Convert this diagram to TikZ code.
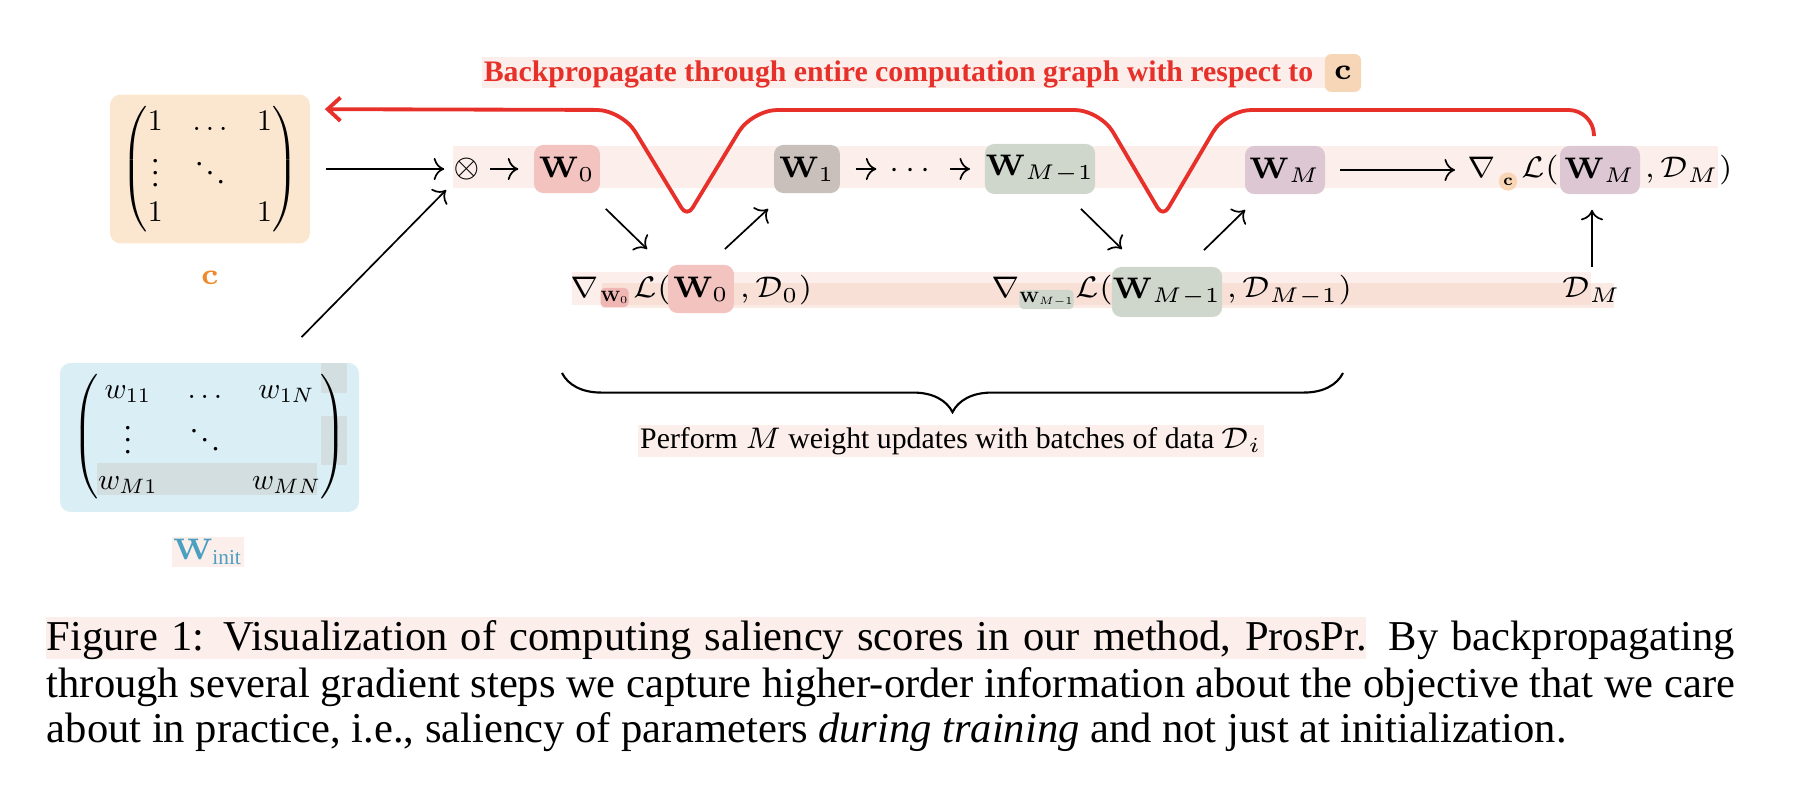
\documentclass[tikz,border=0pt]{standalone}
\usepackage{amsmath}
\usepackage{graphicx}
\usepackage[no-math]{fontspec}
\setmainfont{Liberation Serif}
\usetikzlibrary{arrows.meta,calc,decorations.pathreplacing}
\definecolor{band}{HTML}{FCEFEB}
\definecolor{bandB}{HTML}{F6CFC0}
\definecolor{redc}{HTML}{E8302A}
\definecolor{orangec}{HTML}{EE8A2C}
\definecolor{bluec}{HTML}{4B9FC0}
\definecolor{cboxc}{HTML}{FBE7D0}
\definecolor{winitc}{HTML}{D9EEF5}
\definecolor{patchc}{HTML}{D3DEE1}
\definecolor{w0c}{HTML}{F3C3C0}
\definecolor{w0s}{HTML}{EFB6B3}
\definecolor{w1c}{HTML}{C9C0BC}
\definecolor{wm1c}{HTML}{CFD7CC}
\definecolor{wmc}{HTML}{DDC7D2}
\definecolor{csmall}{HTML}{F8D5B4}
\definecolor{ctitle}{HTML}{F7D6B8}
\tikzset{
  every node/.style={font=\fontsize{7}{8.4}\selectfont, inner sep=0pt},
  wbox/.style={rounded corners=2.2pt, inner sep=0pt, minimum height=11.3pt},
  tinybox/.style={rounded corners=1pt, inner sep=0pt, minimum height=4.5pt},
  arr/.style={->, line width=0.4pt},
  redline/.style={draw=redc, line width=0.9pt, -{Straight Barb[length=3pt,width=5.5pt]}},
  captext/.style={anchor=base west, font=\fontsize{10}{11}\selectfont},
}
\newcommand{\smallmat}[1]{\scalebox{0.7}{\fontsize{10}{12}\selectfont$#1$}}
\begin{document}
\begin{tikzpicture}[x=0.235pt,y=-0.235pt]
\useasboundingbox (0,0) rectangle (1802,796);
% highlight bands
\fill[band] (482,57) rectangle (1349,88);
\fill[band] (453,146) rectangle (1718,188);
\fill[band] (572,272) rectangle (1591,305);
\fill[bandB, fill opacity=.45] (602,283) rectangle (1614,308);
\fill[band] (46,617) rectangle (1366,659);
% title
\node[anchor=base west, text=redc, font=\fontsize{7}{8.4}\selectfont\bfseries] (title) at (483,82) {Backpropagate through entire computation graph with respect to};
\node[fill=ctitle, rounded corners=1.5pt, minimum width=8.5pt, minimum height=8.9pt] (ctitlebox) at (1343,73) {$\mathbf{c}$};
% c matrix
\node[fill=cboxc, rounded corners=2.5pt, minimum width=47pt, minimum height=35pt] (cbox) at (210,169)
  {\smallmat{\begin{pmatrix}1 & \ldots & 1\\ \vdots & \ddots & \\ 1 & & 1\end{pmatrix}}};
\node[text=orangec] (clabel) at (210,278) {$\mathbf{c}$};
% W_init matrix
\node[fill=winitc, rounded corners=2.5pt, minimum width=70.3pt, minimum height=35pt] (winit) at (209.5,437.5) {};
\fill[patchc] (97,463) rectangle (317,495);
\fill[patchc] (321,363) rectangle (347,393);
\fill[patchc] (321,416) rectangle (347,465);
\node (winitm) at (209.5,436.5)
  {\smallmat{\begin{pmatrix} w_{11} & \ldots & w_{1N}\\ \vdots & \ddots & \\ w_{M1} & & w_{MN}\end{pmatrix}}};
\node[fill=band, text=bluec, inner ysep=0.6pt, inner xsep=0.2pt] (winitlabel) at (208,552) {$\mathbf{W}_{\text{init}}$};
% row 1
\node[circle, minimum size=10.3pt] (otimes) at (467,169) {$\otimes$};
\node[wbox, fill=w0c, minimum width=15.5pt] (w0top) at (567,169) {$\mathbf{W}_0$};
\node[wbox, fill=w1c, minimum width=15.5pt] (w1) at (807,169) {$\mathbf{W}_1$};
\node[anchor=base] (dots) at (913,178) {$\cdots$};
\node[wbox, fill=wm1c, minimum width=25.9pt, minimum height=11.75pt] (wm1top) at (1040,169) {$\mathbf{W}_{M-1}$};
\node[wbox, fill=wmc, minimum width=18.8pt] (wmtop) at (1285,170) {$\mathbf{W}_M$};
\node[anchor=base] (nablac) at (1482,178) {$\nabla$};
\node[circle, fill=csmall, minimum size=4.3pt] (csub) at (1508,181.5) {\scalebox{0.55}{$\mathbf{c}$}};
\node[anchor=base west] (lc) at (1521,178) {$\mathcal{L}($};
\node[wbox, fill=wmc, minimum width=18.8pt] (wmr) at (1600,170) {$\mathbf{W}_M$};
\node[anchor=base west] (dmr) at (1644,178) {$,\mathcal{D}_M)$};
% row 2
\node[anchor=base] (nab1) at (585,298) {$\nabla$};
\node[tinybox, fill=w0s, minimum width=6.3pt] (w0sub) at (614.5,297.5) {\scalebox{0.5}{$\mathbf{W}_0$}};
\node[anchor=base west] (l1) at (633,298) {$\mathcal{L}($};
\node[wbox, fill=w0c, minimum width=15.5pt] (w0bot) at (701,289) {$\mathbf{W}_0$};
\node[anchor=base west] (d0) at (739,298) {$,\mathcal{D}_0)$};
\node[anchor=base] (nab2) at (1006,298) {$\nabla$};
\node[tinybox, fill=wm1c, minimum width=11.5pt] (wm1sub) at (1046.5,299.5) {\scalebox{0.5}{$\mathbf{W}_{M-1}$}};
\node[anchor=base west] (l2) at (1075,298) {$\mathcal{L}($};
\node[wbox, fill=wm1c, minimum width=25.9pt, minimum height=11.75pt] (wm1bot) at (1167,292) {$\mathbf{W}_{M-1}$};
\node[anchor=base west] (dm1) at (1226,298) {$,\mathcal{D}_{M-1})$};
\node[anchor=base, inner sep=2.3pt] (dm) at (1592,298) {$\mathcal{D}_M$};
% arrows
\coordinate (winitout) at ($(winit.north)+(92,-25)$);
\draw[arr, shorten <=3.5pt] (cbox) -- (otimes);
\draw[arr, shorten >=1.6pt] (winitout) -- (otimes.south west);
\draw[arr, shorten >=3.5pt] (otimes) -- (w0top);
\draw[arr] ($(w0top.south east)+(5,15)$) -- ($(w0bot.north west)+(-20,-15)$);
\draw[arr] ($(w0bot.north east)+(-10,-15)$) -- ($(w1.south west)+(-5,15)$);
\draw[arr, shorten <=3.5pt, shorten >=2.8pt] (w1.east) -- (dots.west |- w1.east);
\draw[arr, shorten <=2.8pt, shorten >=3.3pt] (dots.east |- wm1top.west) -- (wm1top.west);
\draw[arr] ($(wm1top.south east)+(-15,14)$) -- ($(wm1bot.north west)+(11,-17)$);
\draw[arr] ($(wm1bot.north east)+(-19,-16)$) -- ($(wmtop.south west)+(1,15)$);
\draw[arr, shorten <=3.3pt, shorten >=2.8pt] (wmtop.east) -- (nablac.west |- wmtop.east);
\draw[arr, shorten >=3.5pt] (dm.north) -- (dm.north |- wmr.south);
% red backprop path
\coordinate (redtip) at ($(cbox.north east)+(14,15.5)$);
\draw[redline, rounded corners=6pt] ($(wmr.north)+(-6,-9)$) -- (1594,110) -- (1226,110)
  [rounded corners=2.5pt] -- (1163,217) [rounded corners=6pt] -- (1100,110) -- (752,110)
  [rounded corners=2.5pt] -- (687,217) [rounded corners=6pt] -- (622,110) -- (redtip);
% brace
\coordinate (bl) at (562,373);
\coordinate (br) at (1343,373);
\draw[decorate, decoration={brace, mirror, amplitude=9.2pt}, line width=0.5pt] (bl) -- (br);
\node[fill=band, inner sep=0.6pt] (perform) at (951,441) {Perform $M$ weight updates with batches of data $\mathcal{D}_i$};
% caption
\node[captext] (cap1) at (46,651) {\makebox[396.7pt][s]{Figure 1: Visualization of computing saliency scores in our method, ProsPr. By backpropagating}};
\node[captext] (cap2) at (46,697) {\makebox[396.7pt][s]{through several gradient steps we capture higher-order information about the objective that we care}};
\node[captext] (cap3) at (46,743) {about in practice, i.e., saliency of parameters \textit{during training} and not just at initialization.};
\end{tikzpicture}
\end{document}
